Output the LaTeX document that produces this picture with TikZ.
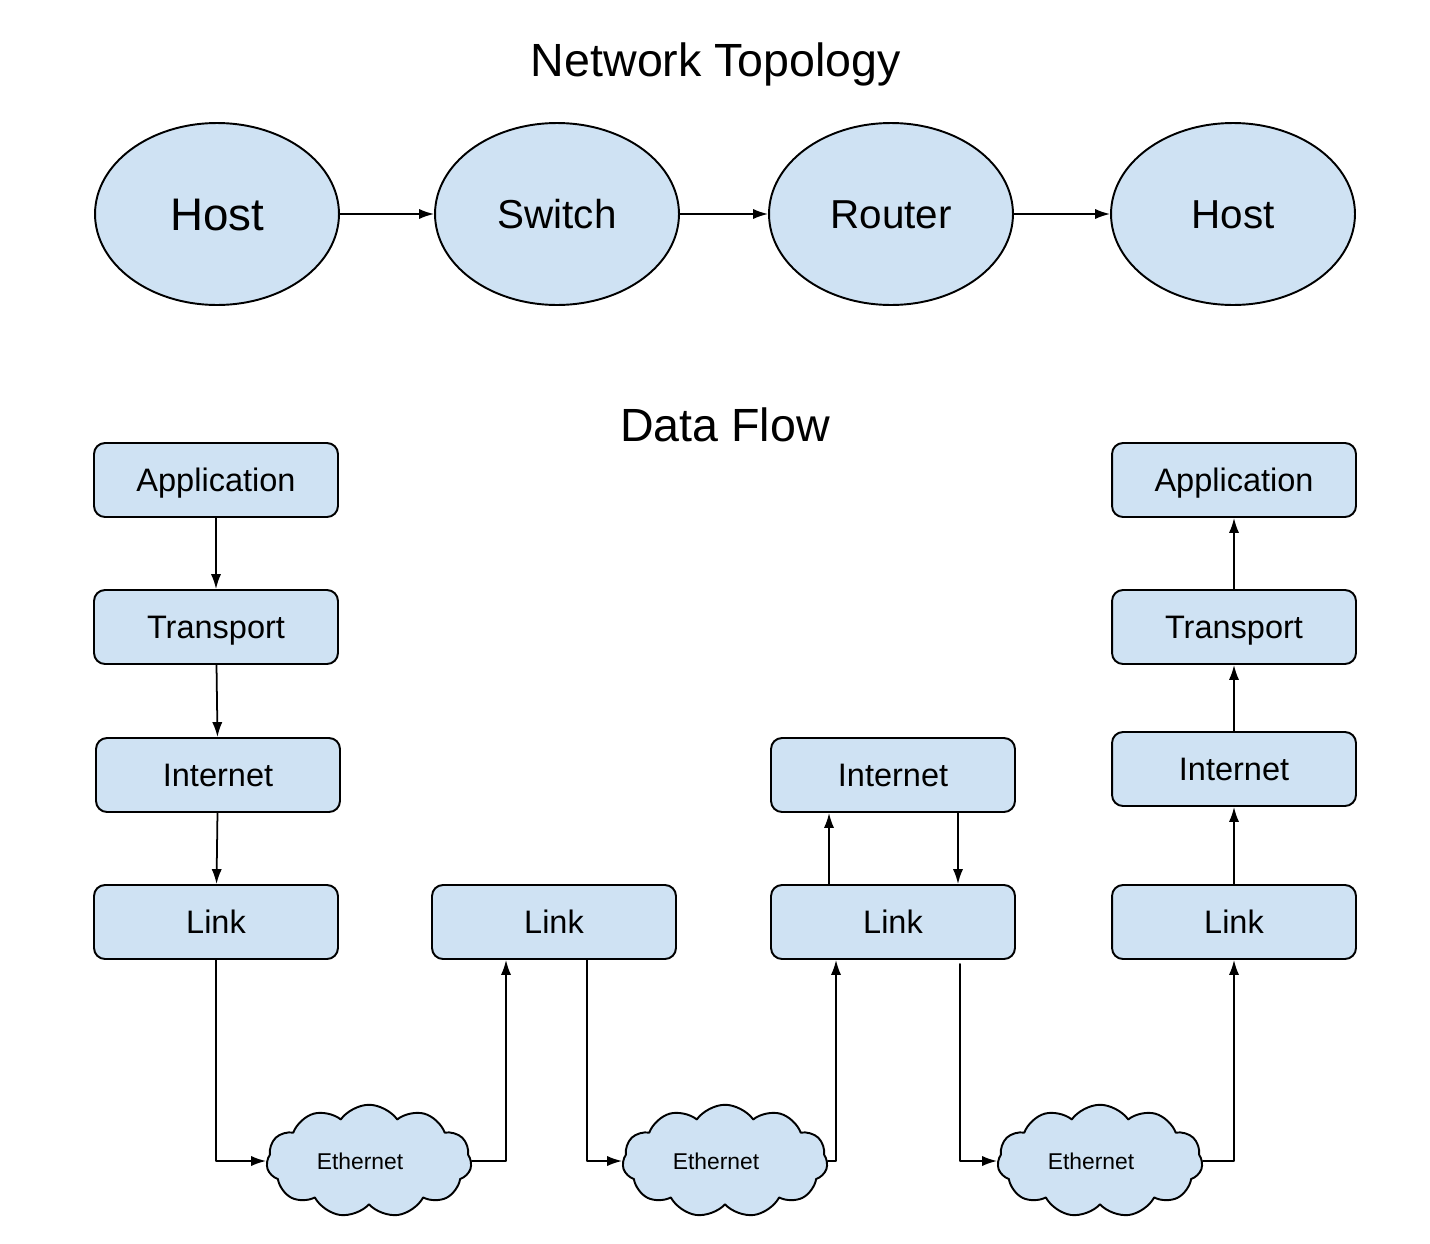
\documentclass[tikz,border=0pt]{standalone}
\usepackage{fontspec}
\setmainfont{Liberation Sans}
\usetikzlibrary{shapes.geometric,shapes.symbols,arrows.meta}
\definecolor{paleblue}{HTML}{CFE2F3}
\begin{document}
\begin{tikzpicture}[x=.02cm,y=-.02cm,>={Latex[length=8.5pt,width=5.8pt]},line join=round,line cap=round,
	dev/.style={ellipse,draw,line width=1.1pt,fill=paleblue,minimum width=4.88cm,minimum height=3.64cm,text height=16.5pt,text depth=0pt,font=\fontsize{23}{28}\selectfont},
	layer/.style={rectangle,rounded corners=.22cm,draw,line width=1.1pt,fill=paleblue,minimum width=4.88cm,minimum height=1.48cm,text height=13.2pt,text depth=0pt,font=\fontsize{18.5}{22}\selectfont},
	net/.style={cloud,cloud puffs=11,cloud puff arc=110,aspect=1.9,draw,line width=1.1pt,fill=paleblue,minimum width=4.1cm,minimum height=2.25cm,inner sep=0pt,font=\fontsize{13}{15}\selectfont},
	heading/.style={text height=19pt,text depth=0pt,font=\fontsize{26.5}{32}\selectfont},
	flow/.style={->,line width=1pt}]
	\useasboundingbox (0,0) rectangle (1430,1244);
	% topology
	\node[heading] (ttop) at (716,60) {Network Topology};
	\node[dev,text height=18.6pt,font=\fontsize{26}{32}\selectfont] (h1) at (217,214) {Host};
	\node[dev] (sw) at (557,214) {Switch};
	\node[dev] (ro) at (891,214) {Router};
	\node[dev] (h2) at (1233,214) {Host};
	\draw[flow] (h1) -- (sw);
	\draw[flow] (sw) -- (ro);
	\draw[flow] (ro) -- (h2);
	% data flow
	\node[heading] (tflow) at (725,425) {Data Flow};
	\node[layer] (a1) at (216,480) {Application};
	\node[layer] (t1) at (216,627) {Transport};
	\node[layer] (i1) at (218,775) {Internet};
	\node[layer] (l1) at (216,922) {Link};
	\node[layer] (l2) at (554,922) {Link};
	\node[layer] (i3) at (893,775) {Internet};
	\node[layer] (l3) at (893,922) {Link};
	\node[layer] (a4) at (1234,480) {Application};
	\node[layer] (t4) at (1234,627) {Transport};
	\node[layer] (i4) at (1234,769) {Internet};
	\node[layer] (l4) at (1234,922) {Link};
	\node[net] (e1) at (369,1161) {Ethernet\kern.36cm};
	\node[net] (e2) at (725,1161) {Ethernet\kern.36cm};
	\node[net] (e3) at (1100,1161) {Ethernet\kern.36cm};
	% sending host
	\draw[flow] (a1) -- (t1);
	\draw[flow] (t1) -- (i1);
	\draw[flow] (i1) -- (l1);
	\draw[flow] (l1.south) |- (e1.west);
	% switch
	\draw[flow] (e1.east) -| ([xshift=-.96cm]l2.south);
	\draw[flow] ([xshift=.66cm]l2.south) |- (e2.west);
	% router
	\draw[flow] (e2.east) -| ([xshift=-1.14cm]l3.south);
	\draw[flow] ([xshift=-1.28cm]l3.north) -- ([xshift=-1.28cm]i3.south);
	\draw[flow] ([xshift=1.3cm]i3.south) -- ([xshift=1.3cm]l3.north);
	\draw[flow] ([xshift=1.34cm,yshift=-.08cm]l3.south) |- (e3.west);
	% receiving host
	\draw[flow] (e3.east) -| (l4.south);
	\draw[flow] (l4) -- (i4);
	\draw[flow] (i4) -- (t4);
	\draw[flow] (t4) -- (a4);
\end{tikzpicture}
\end{document}
